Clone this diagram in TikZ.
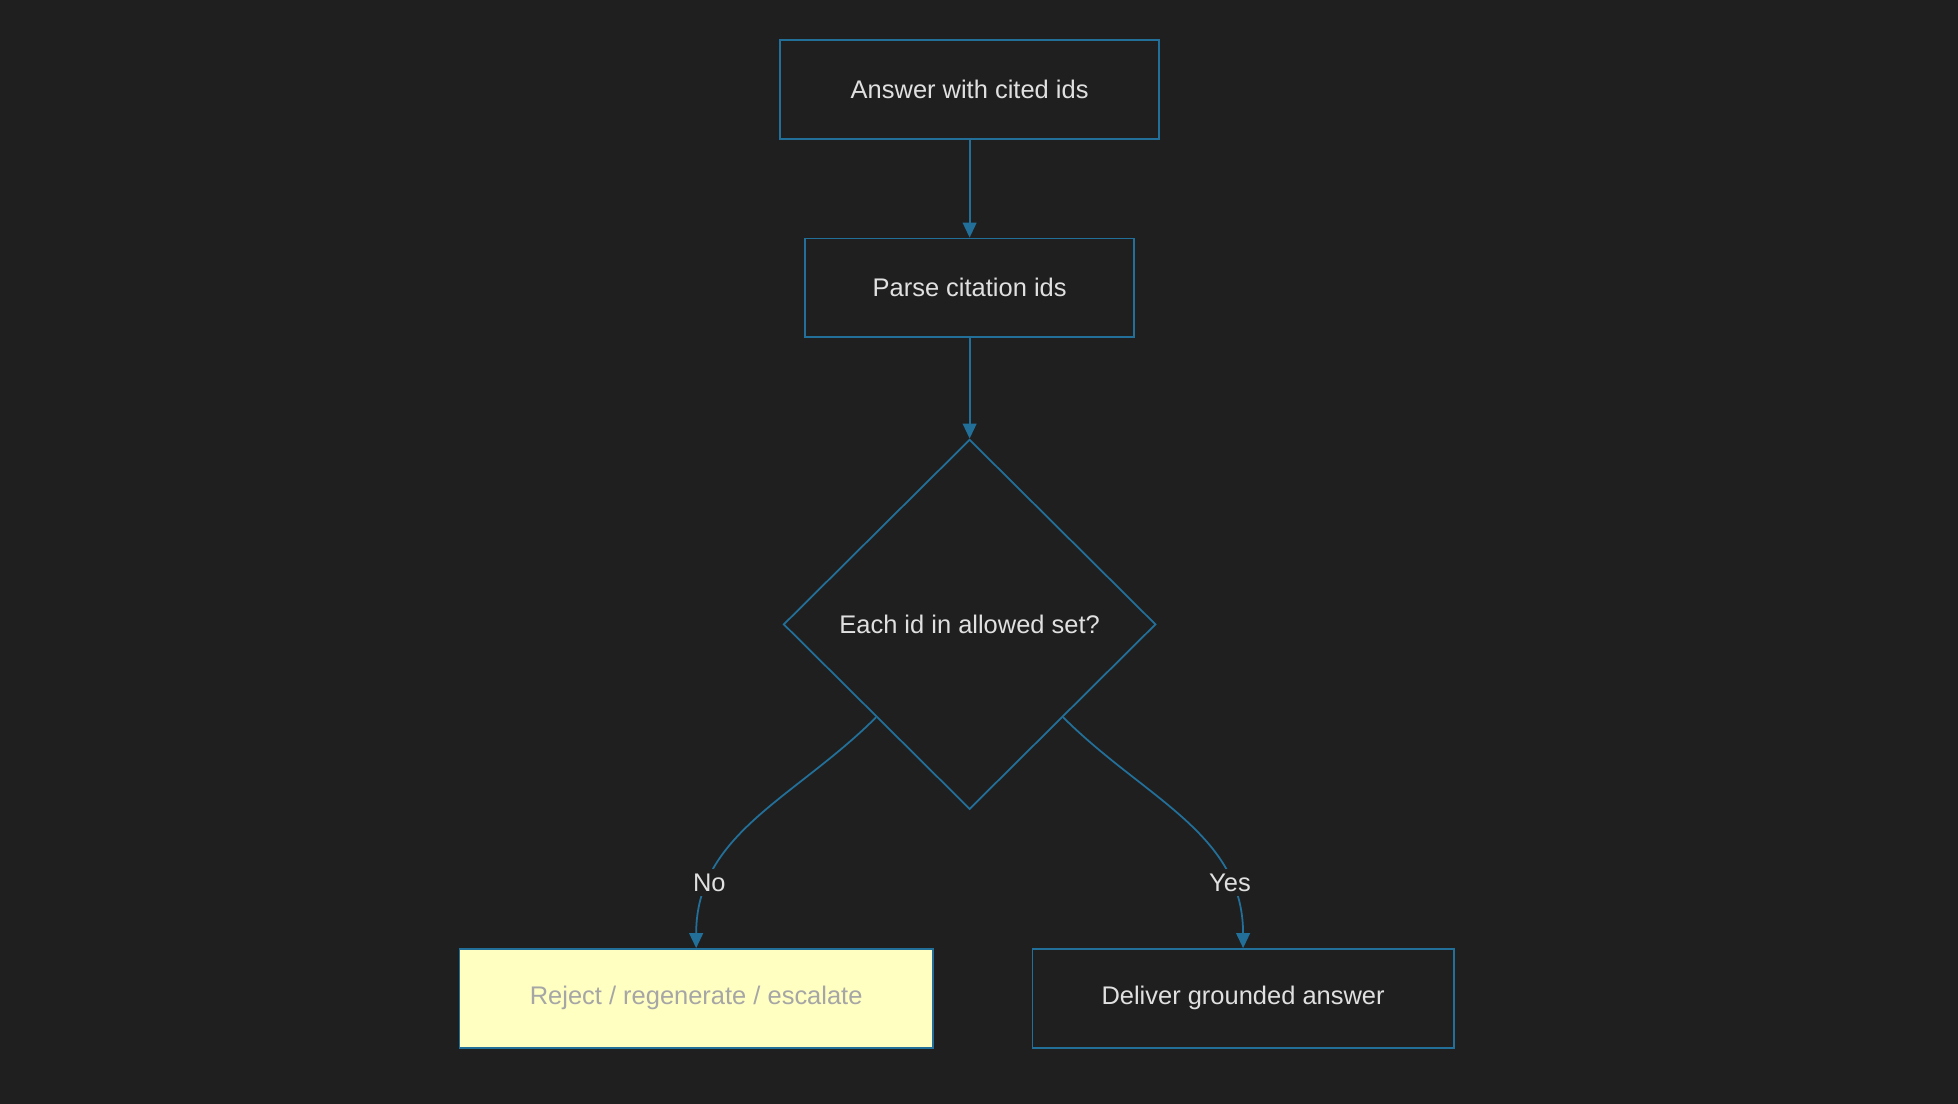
\documentclass[tikz,border=0pt]{standalone}
\usepackage{fontspec}
\setmainfont{Liberation Sans}
\usetikzlibrary{shapes.geometric,arrows.meta}
\definecolor{bg}{HTML}{1F1F1F}
\definecolor{edge}{HTML}{22709A}
\definecolor{txt}{HTML}{E0E0E0}
\definecolor{hl}{HTML}{FFFFC2}
\begin{document}
\begin{tikzpicture}[x=0.01cm,y=-0.01cm,
	box/.style = {draw=edge, thin, text=txt, minimum height=0.79cm, inner sep=0pt, font=\fontsize{5.8}{7}\selectfont},
	dec/.style = {draw=edge, thin, diamond, text=txt, minimum width=2.98cm, minimum height=2.96cm, inner sep=0pt, font=\fontsize{5.8}{7}\selectfont},
	arr/.style = {draw=edge, thin, -{Triangle[length=0.12cm,width=0.11cm]}},
	lbl/.style = {fill=bg, text=txt, inner sep=1pt, font=\fontsize{5.8}{7}\selectfont}]
	\fill[bg] (0,0) rectangle (1568,884);
	\node[box, minimum width=3.03cm] (ans) at (776.5,71.5) {Answer with cited ids};
	\node[box, minimum width=2.63cm] (parse) at (776.5,230.5) {Parse citation ids};
	\node[dec] (chk) at (776.5,500) {Each id in allowed set?};
	\node[box, minimum width=3.79cm, fill=hl, text=gray!70] (rej) at (557.5,799.5) {Reject / regenerate / escalate};
	\node[box, minimum width=3.37cm] (ok) at (995.5,799.5) {Deliver grounded answer};
	\draw[arr] (ans) -- (parse);
	\draw[arr] (parse) -- (chk);
	\draw[arr] (chk.south west) to[out=-135,in=90] node[lbl, pos=0.78] {No} (rej.north);
	\draw[arr] (chk.south east) to[out=-45,in=90] node[lbl, pos=0.78] {Yes} (ok.north);
\end{tikzpicture}
\end{document}
